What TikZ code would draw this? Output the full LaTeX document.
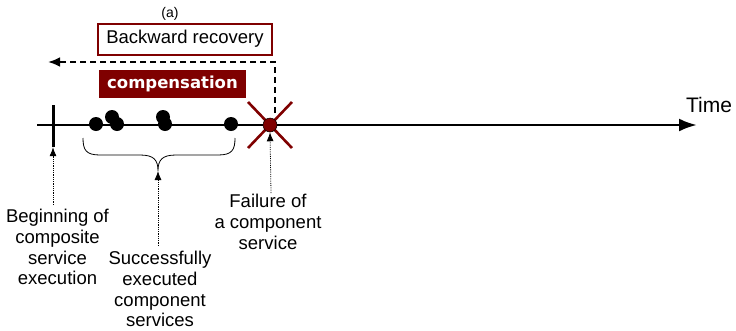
\documentclass[tikz,border=0pt]{standalone}
\usepackage{fontspec}
\setmainfont{Liberation Sans}
\newfontfamily\boldlabel{DejaVu Sans}
\usetikzlibrary{arrows.meta}
\definecolor{maroon}{HTML}{7F0000}
\tikzset{
  lbl/.style={align=center,font=\fontsize{18.5}{20.7}\selectfont,inner sep=0pt},
  pointer/.style={densely dotted,line width=0.8pt,-{Latex[length=9pt,width=7pt]}},
  event/.style={circle,fill=black,minimum size=14pt,inner sep=0pt},
}
\begin{document}
\begin{tikzpicture}[x=1pt,y=-1pt]
\useasboundingbox (0,0) rectangle (736,330);

% time axis
\coordinate (t0) at (37,125);
\coordinate (t1) at (697,125);
\draw[line width=2.8pt,-{Latex[length=18pt,width=13pt]}] (t0) -- (t1);
\node[font=\fontsize{21}{22}\selectfont,inner sep=0pt] (time) at (709,105) {Time};

% start of the composite execution
\node[minimum width=3pt,minimum height=42pt,fill=black,inner sep=0pt] (start) at (53,126) {};

% executed component services
\node[event] (s1) at (96,124) {};
\node[event] (s2) at (112,117) {};
\node[event] (s3) at (117,124) {};
\node[event] (s4) at (163,117) {};
\node[event] (s5) at (165,124) {};
\node[event] (s6) at (231,124) {};

% failed component service
\coordinate (fail) at (270,125);
\draw[maroon,line width=2.6pt] (248,102) -- (292,148) (292,102) -- (248,148);
\node[circle,fill=maroon,draw=black,line width=0.5pt,minimum size=14pt,inner sep=0pt] (failure) at (fail) {};

% brace under the executed services
\coordinate (bl) at (83,138);
\coordinate (br) at (235,138);
\coordinate (btip) at (158,171);
\draw[line width=0.8pt] (bl) .. controls (83,150) and (86,155) .. (100,155)
  -- (140,155) .. controls (154,155) and (158,160) .. (btip)
  .. controls (158,160) and (162,155) .. (176,155)
  -- (218,155) .. controls (232,155) and (235,150) .. (br);

% backward recovery
\node[draw=maroon,line width=2pt,minimum width=174pt,minimum height=31pt,inner sep=0pt,
      font=\fontsize{18.5}{20}\selectfont] (back) at (185,39) {Backward recovery};
\node[font=\fontsize{14}{16}\selectfont,inner sep=0pt] (tag) at (170,14) {(a)};
\coordinate (dashstart) at (275,113);
\coordinate (dashend) at (48,62);
\draw[line width=2.6pt,dash pattern=on 6pt off 4pt,-{Latex[length=12pt,width=10pt]}]
  (dashstart) |- (dashend);
\node[fill=maroon,text=white,minimum width=147pt,minimum height=28pt,inner sep=0pt,
      font=\boldlabel\bfseries\fontsize{16.5}{18}\selectfont] (comp) at (172.5,84) {compensation};

% explanatory labels
\node[lbl,anchor=north] (lbegin) at (57.5,209) {Beginning of\\composite\\service\\execution};
\node[lbl,anchor=north] (lsucc) at (160,251) {Successfully\\executed\\component\\services};
\node[lbl,anchor=north] (lfail) at (268,194) {Failure of\\a component\\service};

\draw[pointer] (53,205) -- (start.south);
\draw[pointer] (158,246) -- (btip);
\draw[pointer] (271,193) -- (failure.south);
\end{tikzpicture}
\end{document}
